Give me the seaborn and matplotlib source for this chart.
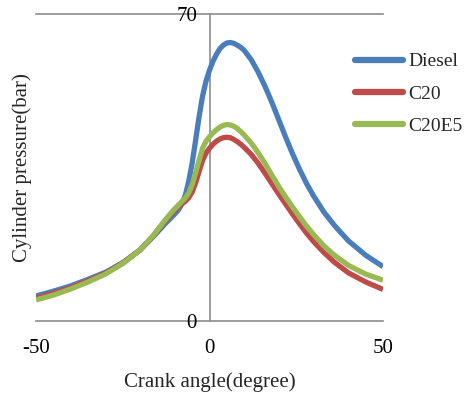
import matplotlib
matplotlib.use("Agg")
import matplotlib.pyplot as plt
import seaborn as sns
import pandas as pd

crank_angle = [-50, -45, -40, -35, -30, -25, -20, -16, -13, -11, -10, -9, -8, -7, -6, -5, -4, -3, -2, -1,
               0, 1, 2, 3, 4, 5, 6, 7, 8, 9, 10, 12, 14, 16, 18, 20, 22, 24, 26, 28, 30, 33, 36, 40, 45, 50]
diesel = [5.7, 6.8, 8.0, 9.5, 11.1, 13.3, 16.2, 19.4, 22.0, 23.6, 24.4, 25.3, 26.6, 28.6, 31.8, 36.0, 41.2, 46.6, 51.3, 54.7,
          57.2, 59.2, 60.8, 62.1, 62.9, 63.4, 63.5, 63.3, 62.9, 62.4, 61.7, 59.6, 56.8, 53.5, 49.8, 45.8, 41.8, 38.0, 34.5, 31.3,
          28.5, 24.8, 21.8, 18.3, 15.0, 12.4]
c20 = [5.2, 6.3, 7.6, 9.2, 10.9, 13.2, 16.2, 19.6, 22.6, 24.4, 25.2, 26.0, 26.7, 27.3, 28.1, 29.4, 31.5, 34.1, 36.6, 38.3,
       39.4, 40.3, 41.0, 41.5, 41.8, 41.9, 41.8, 41.4, 40.9, 40.3, 39.6, 38.0, 36.0, 33.7, 31.3, 28.9, 26.6, 24.3, 22.1, 20.0,
       18.1, 15.6, 13.4, 11.0, 8.9, 7.2]
c20e5 = [4.8, 5.9, 7.3, 8.9, 10.7, 13.1, 16.2, 19.7, 22.8, 24.7, 25.6, 26.4, 27.2, 28.0, 29.2, 31.1, 33.8, 36.6, 39.4, 41.0,
         42.0, 42.9, 43.6, 44.2, 44.6, 44.8, 44.7, 44.4, 43.9, 43.2, 42.4, 40.6, 38.4, 35.9, 33.2, 30.6, 28.2, 25.9, 23.7, 21.6,
         19.7, 17.1, 15.0, 12.7, 10.7, 9.3]
series_names = ["Diesel", "C20", "C20E5"]
x_ticks = [-50, 0, 50]
y_ticks = [0, 70]

df = pd.concat([
    pd.DataFrame({"angle": crank_angle, "pressure": vals, "fuel": name})
    for name, vals in zip(series_names, [diesel, c20, c20e5])
], ignore_index=True)

sns.set_style("white")
plt.rcParams["font.family"] = ["Liberation Serif", "DejaVu Serif"]

fig = plt.figure(figsize=(4.65, 3.94), dpi=100)
ax = fig.add_axes([36 / 465, 1 - 321 / 394, 347 / 465, 307 / 394])

palette = {"Diesel": "#4A7EBB", "C20": "#BE4B48", "C20E5": "#98B954"}
sns.lineplot(data=df, x="angle", y="pressure", hue="fuel", hue_order=series_names,
             palette=palette, linewidth=3.8, ax=ax, legend=True)
for line in ax.get_lines():
    line.set_solid_joinstyle("round")
    line.set_solid_capstyle("butt")

ax.set_xlim(-50, 50)
ax.set_ylim(0, 70)
ax.set_xticks(x_ticks)
ax.set_yticks(y_ticks)
ax.set_xticklabels([str(t) for t in x_ticks])
ax.set_yticklabels([str(t) for t in y_ticks])

gray = "#8C8C8C"
ax.spines["left"].set_position(("data", 0))
ax.spines["right"].set_visible(False)
for s in ["left", "top", "bottom"]:
    ax.spines[s].set_color(gray)
    ax.spines[s].set_linewidth(1.2)
    ax.spines[s].set_zorder(0.5)

ax.tick_params(axis="both", length=0, labelsize=15, colors="black")
ax.tick_params(axis="y", pad=9)
ax.tick_params(axis="x", pad=13)

ax.set_xlabel("Crank angle(degree)", fontsize=15)
ax.set_ylabel("Cylinder pressure(bar)", fontsize=15)
ax.xaxis.set_label_coords(0.5, -0.168)
ax.yaxis.set_label_coords(-0.04, 0.5)
ax.yaxis.label.set_va("center")

handles, labels = ax.get_legend_handles_labels()
for h in handles:
    h.set_linewidth(4.5)
    h.set_solid_capstyle("round")
leg = ax.legend(handles, labels, loc="upper left", bbox_to_anchor=(347 / 465, 1 - 45 / 394),
                bbox_transform=fig.transFigure, frameon=False, fontsize=14,
                handlelength=2.5, handletextpad=0.25, labelspacing=0.75, borderaxespad=0)

fig.savefig("out.png", dpi=100)
